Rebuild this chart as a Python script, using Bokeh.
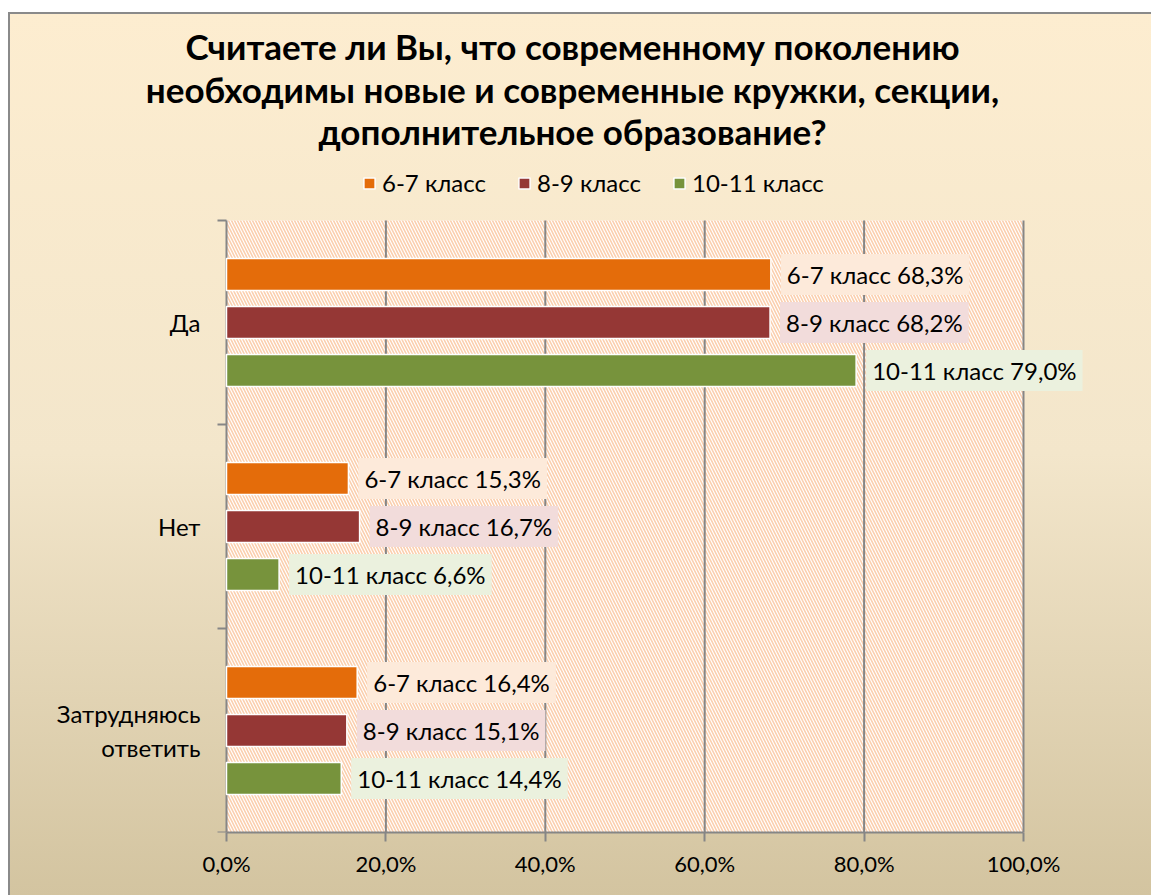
from bokeh.plotting import figure
from bokeh.models import (Range1d, LinearAxis, FixedTicker, ColumnDataSource,
                          Label, Legend, LegendItem, BoxAnnotation)
from bokeh.embed import file_html
from bokeh.resources import INLINE

# ---- data ----
categories = ["Да", "Нет", "Затрудняюсь ответить"]
series_names = ["6-7 класс", "8-9 класс", "10-11 класс"]
vals_67 = [68.3, 15.3, 16.4]
vals_89 = [68.2, 16.7, 15.1]
vals_1011 = [79.0, 6.6, 14.4]
x_ticks = [0, 20, 40, 60, 80, 100]
x_tick_labels = ["0,0%", "20,0%", "40,0%", "60,0%", "80,0%", "100,0%"]
title_lines = ["Считаете ли Вы, что современному поколению",
               "необходимы новые и современные кружки, секции,",
               "дополнительное образование?"]

colors = ["#E46C0A", "#953735", "#77933C"]
label_bgs = ["#FDEADA", "#F2DCDB", "#EBF1DE"]
offsets = [0.235, 0.0, -0.235]
FONT = "Lato"
FS = "24px"
AXIS_COL = "#868686"
n = len(categories)
centers = [n - i - 0.5 for i in range(n)]
X_MAX = 100

# layout in pixels: plot area (0..100 %) is 797 px wide; the frame extends
# beyond it on all sides so that texts placed outside it are not clipped
PX = 797 / X_MAX          # pixels per percent
LEFT_PX, RIGHT_PX = 216, 905
p = figure(width=1143, height=883, output_backend="svg", toolbar_location=None,
           y_range=Range1d(0, n * 4 / 3), x_range=Range1d(-LEFT_PX / PX, RIGHT_PX / PX),
           title=None, y_axis_type=None, x_axis_type=None,
           min_border_left=2, min_border_right=20, min_border_top=4, min_border_bottom=63)
p.border_fill_color = None
p.background_fill_color = None
p.outline_line_color = None
p.grid.visible = False
p.styles = {"background": "linear-gradient(#FDEDD0 0%, #F3E6CB 50%, #D3C4A0 100%)",
            "box-shadow": "inset 2px 2px 0 0 #8A8A8A",
            "margin-top": "12px", "margin-left": "8px"}

# hatched plot area
p.add_layout(BoxAnnotation(left=0, right=X_MAX, bottom=0, top=n,
                           fill_color="white", fill_alpha=1, line_color=None, hatch_pattern="\\",
                           hatch_color="#FBCFAE", hatch_scale=6, hatch_weight=1.6,
                           level="image"))

# vertical grid lines
gsrc = ColumnDataSource(dict(x=x_ticks[1:], y0=[0] * (len(x_ticks) - 1), y1=[n] * (len(x_ticks) - 1)))
p.segment(x0="x", x1="x", y0="y0", y1="y1", source=gsrc, line_color=AXIS_COL, line_width=2,
          level="underlay")

# x axis
xa = LinearAxis(ticker=FixedTicker(ticks=x_ticks), bounds=(0, X_MAX),
                major_label_overrides={t: l for t, l in zip(x_ticks, x_tick_labels)})
xa.axis_line_color = AXIS_COL
xa.axis_line_width = 2
xa.major_tick_line_color = AXIS_COL
xa.major_tick_line_width = 2
xa.major_tick_out = 9
xa.major_tick_in = 0
xa.minor_tick_line_color = None
xa.major_label_text_font = FONT
xa.major_label_text_font_size = "22px"
xa.major_label_text_color = "black"
xa.major_label_standoff = 8
p.add_layout(xa, "below")

# y axis line and boundary ticks (drawn inside the extended frame)
bounds = list(range(n + 1))
p.segment(x0=[0], x1=[0], y0=[0], y1=[n], line_color=AXIS_COL, line_width=2)
tsrc = ColumnDataSource(dict(y=bounds, x0=[0] * len(bounds), x1=[-9 / PX] * len(bounds)))
p.segment(x0="x0", x1="x1", y0="y", y1="y", source=tsrc, line_color=AXIS_COL, line_width=2)

# category labels
for c, yc in zip(categories, centers):
    p.add_layout(Label(x=0, y=yc, x_offset=-26, text=c.replace("Затрудняюсь ", "Затрудняюсь\n"),
                       text_align="right", text_baseline="middle", text_font=FONT,
                       text_font_size=FS, text_color="black"))

items = []
for name, vals, col, bg, off in zip(series_names, [vals_67, vals_89, vals_1011], colors, label_bgs, offsets):
    ys = [c + off for c in centers]
    src = ColumnDataSource(dict(y=ys, val=vals))
    r = p.hbar(y="y", right="val", left=0, height=0.157,
               source=src, fill_color=col, line_color="white", line_width=1.5)
    items.append(LegendItem(label=name, renderers=[r]))
    for yv, v in zip(ys, vals):
        lab = Label(x=v, y=yv, text=f"{name} {v:.1f}%".replace(".", ","),
                    x_offset=10, text_baseline="middle", text_font=FONT, text_font_size=FS,
                    text_color="black", background_fill_color=bg, padding=6)
        p.add_layout(lab)

leg = Legend(items=items, orientation="horizontal", location=(352, 635),
             label_text_font=FONT, label_text_font_size=FS, label_text_color="black",
             background_fill_alpha=0, border_line_color=None, glyph_width=14, glyph_height=14,
             spacing=31, label_standoff=6, margin=0, padding=6)
p.add_layout(leg)

# title (screen units, relative to the frame's bottom-left)
for line, ty in zip(title_lines, [787, 744, 702]):
    p.add_layout(Label(x=562, y=ty, x_units="screen", y_units="screen", text=line,
                       text_align="center", text_baseline="middle", text_font=FONT,
                       text_font_size="35px", text_font_style="bold", text_color="black"))

open("out.html", "w").write(file_html(p, INLINE))
